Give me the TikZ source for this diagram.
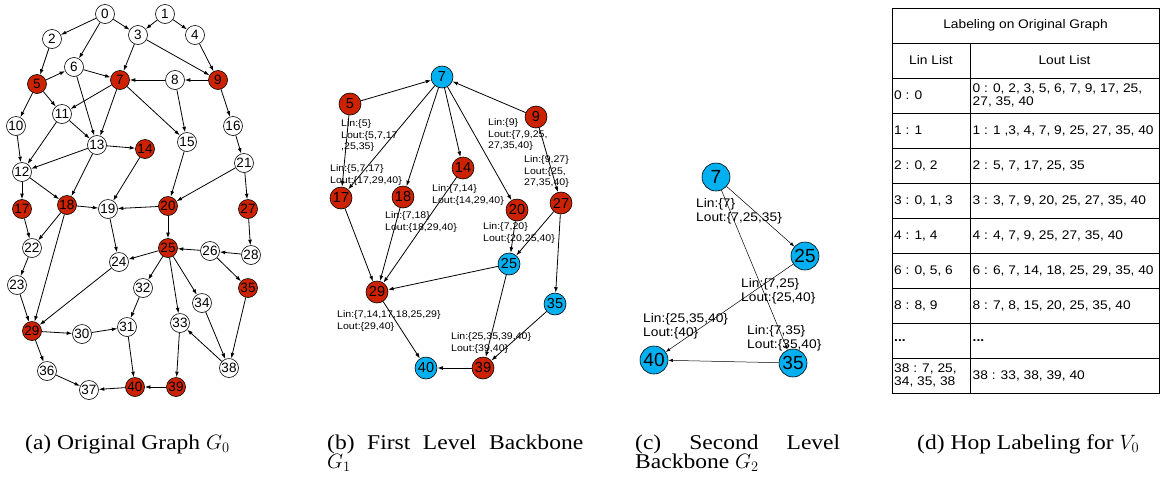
\documentclass[tikz,border=0pt]{standalone}
\usepackage{fontspec}
\setmainfont[FakeStretch=1.12]{Liberation Serif}
\newfontfamily\numfont{Liberation Sans}
\newfontfamily\labfont[FakeStretch=1.1]{Liberation Sans}
\usetikzlibrary{arrows.meta}
\definecolor{hotred}{RGB}{204,34,0}
\definecolor{hubblue}{RGB}{0,176,240}
\tikzset{
	vtx/.style={circle,draw=black,line width=0.6pt,fill=white,inner sep=0pt,minimum size=19pt,font={\numfont\fontsize{13.5}{14}\selectfont}},
	bvtx/.style={vtx,minimum size=22pt,font={\numfont\fontsize{14.5}{15}\selectfont}},
	cvtx/.style={vtx,fill=hubblue,minimum size=28pt,font={\numfont\fontsize{19}{20}\selectfont}},
	hot/.style={fill=hotred},
	hub/.style={fill=hubblue},
	arr/.style={-{Latex[length=5.5pt,width=3.8pt]},line width=0.8pt},
	thinarr/.style={-{Latex[length=4.5pt,width=3.2pt]},line width=0.5pt},
	lab/.style={anchor=base west,inner sep=0pt,align=left,font={\labfont\fontsize{9.6}{11.5}\selectfont}},
	biglab/.style={lab,font={\labfont\fontsize{12.5}{14}\selectfont}},
	cell/.style={anchor=west,inner sep=0pt,align=left,font={\labfont\fontsize{12.5}{12.7}\selectfont}},
	capt/.style={anchor=base west,inner sep=0pt,align=justify,font={\fontsize{21}{19.5}\selectfont}}
}
\begin{document}
\begin{tikzpicture}[x=1pt,y=-1pt]
	\useasboundingbox (0,0) rectangle (1166,485);
	% (a) original graph
	\foreach \n/\x/\y in {0/105/14,1/165/14,2/52/39,3/138/35,4/195/35,6/74/67,8/175/80,10/16/126,11/62/114,12/22/172,13/97/145,15/187/142,16/233/126,19/108/209,21/244/163,22/32/248,23/17/285,24/119/262,26/210/251,28/251/255,30/82/334,31/127/327,32/143/288,33/180/323,34/202/303,36/47/371,37/89/390,38/229/368}
		\node[vtx] (a\n) at (\x,\y) {\n};
	\foreach \n/\x/\y in {5/37/84,7/120/80,9/218/80,14/145/149,17/22/209,18/67/205,20/168/206,25/168/248,27/248/209,29/32/331,35/248/288,39/176/387,40/135/387}
		\node[vtx,hot] (a\n) at (\x,\y) {\n};
	\foreach \s/\t in {0/2,0/6,0/3,1/3,1/4,3/7,3/9,4/9,2/5,5/6,5/11,5/10,6/7,6/13,8/7,9/8,9/16,7/11,7/13,7/15,8/15,11/12,11/13,10/12,13/12,13/14,13/18,12/17,12/18,14/19,15/20,21/20,16/21,21/27,18/19,20/19,18/22,17/22,18/29,19/24,20/25,22/23,23/29,24/29,25/24,26/25,28/26,27/28,26/35,25/32,25/33,25/34,32/31,29/30,30/31,29/36,36/37,40/37,39/40,31/40,33/39,38/33,34/38,35/38}
		\draw[arr] (a\s) -- (a\t);
	% (b) first level backbone
	\foreach \n/\x/\y in {7/442/77,25/509/264,35/555/304,40/426/368}
		\node[bvtx,hub] (b\n) at (\x,\y) {\n};
	\foreach \n/\x/\y in {5/350/104,9/536/117,14/463/168,17/341/198,18/403/197,20/517/210,27/561/203,29/377/292,39/483/368}
		\node[bvtx,hot] (b\n) at (\x,\y) {\n};
	\foreach \s/\t in {5/7,9/7,7/17,7/18,7/14,7/20,5/17,9/27,17/29,18/29,14/29,20/25,27/25,27/35,25/29,25/39,29/40,35/39,39/40}
		\draw[arr] (b\s) -- (b\t);
	\node[lab] (lb5) at (341,149.5) {Lin:\{5\}\\Lout:\{5,7,17\\,25,35\}};
	\node[lab] (lb17) at (330,183) {Lin:\{5,7,17\}\\Lout:\{17,29,40\}};
	\node[lab] (lb18) at (385,230) {Lin:\{7,18\}\\Lout:\{18,29,40\}};
	\node[lab] (lb14) at (432,203) {Lin:\{7,14\}\\Lout:\{14,29,40\}};
	\node[lab] (lb9) at (488,148.5) {Lin:\{9\}\\Lout:\{7,9,25,\\27,35,40\}};
	\node[lab] (lb27) at (524,185.5) {Lin:\{9,27\}\\Lout:\{25,\\27,35,40\}};
	\node[lab] (lb20) at (483,241) {Lin:\{7,20\}\\Lout:\{20,25,40\}};
	\node[lab] (lb29) at (337,329) {Lin:\{7,14,17,18,25,29\}\\Lout:\{29,40\}};
	\node[lab] (lb39) at (451,351) {Lin:\{25,35,39,40\}\\Lout:\{39,40\}};
	% (c) second level backbone
	\foreach \n/\x/\y in {7/716/177,25/805/256,40/654/360,35/793/363}
		\node[cvtx] (c\n) at (\x,\y) {\n};
	\foreach \s/\t in {7/25,7/35,25/40,35/40}
		\draw[thinarr] (c\s) -- (c\t);
	\node[biglab] (lc7) at (696,221.5) {Lin:\{7\}\\Lout:\{7,25,35\}};
	\node[biglab] (lc25) at (741,301.5) {Lin:\{7,25\}\\Lout:\{25,40\}};
	\node[biglab] (lc40) at (643,336.5) {Lin:\{25,35,40\}\\Lout:\{40\}};
	\node[biglab] (lc35) at (747,348.5) {Lin:\{7,35\}\\Lout:\{35,40\}};
	% (d) hop labeling table
	\draw[line width=0.8pt] (892,8) rectangle (1159,393);
	\foreach \y in {43,78,113,148,183,218,253,288,323,358}
		\draw[line width=0.8pt] (892,\y) -- (1159,\y);
	\draw[line width=0.8pt] (970,43) -- (970,393);
	\node[cell,anchor=center] (title) at (1025.5,25.5) {Labeling on Original Graph};
	\node[cell,anchor=center] (linhead) at (931,60.5) {Lin List};
	\node[cell,anchor=center] (louthead) at (1064.5,60.5) {Lout List};
	\foreach \i/\l/\r in {0/{0 : 0}/{0 : 0, 2, 3, 5, 6, 7, 9, 17, 25,\\27, 35, 40},1/{1 : 1}/{1 : 1 ,3, 4, 7, 9, 25, 27, 35, 40},2/{2 : 0, 2}/{2 : 5, 7, 17, 25, 35},3/{3 : 0, 1, 3}/{3 : 3, 7, 9, 20, 25, 27, 35, 40},4/{4 : 1, 4}/{4 : 4, 7, 9, 25, 27, 35, 40},5/{6 : 0, 5, 6}/{6 : 6, 7, 14, 18, 25, 29, 35, 40},6/{8 : 8, 9}/{8 : 7, 8, 15, 20, 25, 35, 40},7/{\textbf{...}}/{\textbf{...}},8/{38 : 7, 25,\\34, 35, 38}/{38 : 33, 38, 39, 40}}{
		\node[cell] (lin\i) at (894,95.5+35*\i) {\l};
		\node[cell] (lout\i) at (972.5,95.5+35*\i) {\r};
	}
	% captions
	\node[capt] (capa) at (25,449) {(a) Original Graph $G_0$};
	\node[capt,text width=256pt] (capb) at (327,449) {\hyphenpenalty=10000 (b) First Level Backbone $G_1$};
	\node[capt,text width=205pt] (capc) at (635,449) {\hyphenpenalty=10000 (c) Second Level Backbone $G_2$};
	\node[capt] (capd) at (917,449) {(d) Hop Labeling for $V_0$};
\end{tikzpicture}
\end{document}
